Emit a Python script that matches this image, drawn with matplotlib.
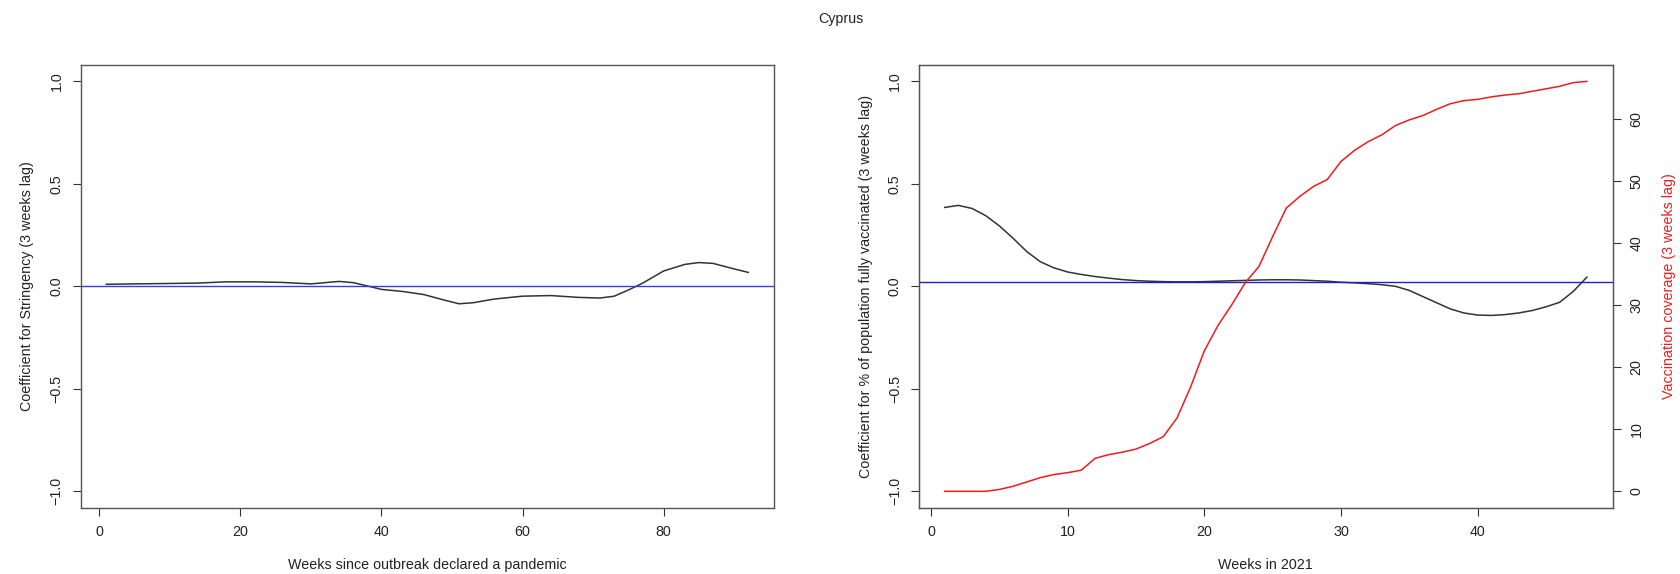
import matplotlib
matplotlib.use('Agg')
from matplotlib import pyplot as plt

plt.rcParams['font.family'] = ['Liberation Sans', 'DejaVu Sans']

# left panel: coefficient for stringency, weeks since pandemic declared
weeks_a = [1, 5, 10, 14, 18, 22, 26, 30, 32, 34, 36, 38, 40, 43, 46, 49, 51, 53,
           56, 60, 64, 68, 71, 73, 75, 77, 80, 83, 85, 87, 90, 92]
coef_a = [0.010, 0.012, 0.014, 0.016, 0.022, 0.022, 0.019, 0.012, 0.018, 0.024,
          0.018, 0.002, -0.015, -0.025, -0.040, -0.068, -0.085, -0.080, -0.062,
          -0.048, -0.045, -0.054, -0.057, -0.048, -0.018, 0.015, 0.075, 0.107,
          0.116, 0.112, 0.085, 0.068]
ref_a = 0.0

# right panel: coefficient for % fully vaccinated, weeks in 2021
weeks_b = list(range(1, 49))
coef_b = [0.385, 0.395, 0.380, 0.345, 0.295, 0.235, 0.170, 0.120, 0.090, 0.070,
          0.058, 0.048, 0.040, 0.033, 0.028, 0.025, 0.023, 0.022, 0.022, 0.023,
          0.025, 0.027, 0.029, 0.031, 0.032, 0.032, 0.031, 0.028, 0.025, 0.020,
          0.017, 0.013, 0.008, 0.000, -0.020, -0.050, -0.080, -0.110, -0.130,
          -0.140, -0.142, -0.138, -0.130, -0.118, -0.100, -0.078, -0.025, 0.045]
vacc = [0, 0, 0, 0, 0.3, 0.8, 1.5, 2.2, 2.7, 3.0, 3.4, 5.3, 5.9, 6.3, 6.8, 7.7,
        8.8, 11.8, 16.8, 22.6, 26.7, 30.0, 33.6, 36.2, 41.0, 45.6, 47.5, 49.1,
        50.2, 53.1, 54.9, 56.3, 57.4, 58.9, 59.8, 60.5, 61.5, 62.4, 62.9, 63.1,
        63.5, 63.8, 64.0, 64.4, 64.8, 65.2, 65.8, 66.0]
ref_b = 0.02

fs = 10.3
box_col = '#555555'
txt_col = '#222222'

fig = plt.figure(figsize=(16.81, 5.74), dpi=100)
ax1 = fig.add_axes([0.048, 0.1155, 0.4124, 0.7713])
ax2 = fig.add_axes([0.5467, 0.1155, 0.4126, 0.7713])


def r_style(ax, xticks, xlim):
    ax.set_xlim(xlim)
    ax.set_ylim(-1.08, 1.08)
    ax.set_xticks(xticks)
    ax.set_yticks([-1.0, -0.5, 0.0, 0.5, 1.0])
    ax.set_yticklabels(['\u22121.0', '\u22120.5', '0.0', '0.5', '1.0'])
    ax.tick_params(direction='out', length=5.8, width=0.8, color='#333333',
                   labelcolor=txt_col, labelsize=fs, pad=6.5)
    ax.tick_params(axis='y', labelrotation=90)
    for lab in ax.get_yticklabels():
        lab.set_va('center')
    for s in ax.spines.values():
        s.set_color(box_col)
        s.set_linewidth(1.0)


r_style(ax1, [0, 20, 40, 60, 80], (-2.64, 95.64))
ax1.plot(weeks_a, coef_a, color='#333333', lw=1.1)
ax1.axhline(ref_a, color='#3b3bdb', lw=1.0)
ax1.set_xlabel('Weeks since outbreak declared a pandemic', fontsize=fs,
               labelpad=14, color=txt_col)
ax1.set_ylabel('Coefficient for Stringency (3 weeks lag)', fontsize=fs,
               labelpad=11, color=txt_col)

r_style(ax2, [0, 10, 20, 30, 40], (-0.88, 49.88))
ax2.plot(weeks_b, coef_b, color='#333333', lw=1.1)
ax2.axhline(ref_b, color='#2020c8', lw=1.0)
ax2.set_xlabel('Weeks in 2021', fontsize=fs, labelpad=14, color=txt_col)
ax2.set_ylabel('Coefficient for % of population fully vaccinated (3 weeks lag)',
               fontsize=fs, labelpad=11, color=txt_col)

ax3 = ax2.twinx()
ax3.plot(weeks_b, vacc, color='#ee1c1c', lw=1.1)
ax3.set_ylim(-2.64, 68.64)
ax3.set_yticks([0, 10, 20, 30, 40, 50, 60])
ax3.tick_params(direction='out', length=5.8, width=0.8, color='#333333',
                labelcolor=txt_col, labelsize=fs, pad=6.5, labelrotation=90)
for lab in ax3.get_yticklabels():
    lab.set_va('center')
for s in ax3.spines.values():
    s.set_color(box_col)
ax3.set_ylabel('Vaccination coverage (3 weeks lag)', color='#ee1c1c',
               fontsize=fs, labelpad=13)

fig.text(0.5, 1 - 19 / 574, 'Cyprus', ha='center', va='center', fontsize=fs,
         color=txt_col)

fig.savefig('out.png', dpi=100, facecolor='white')
